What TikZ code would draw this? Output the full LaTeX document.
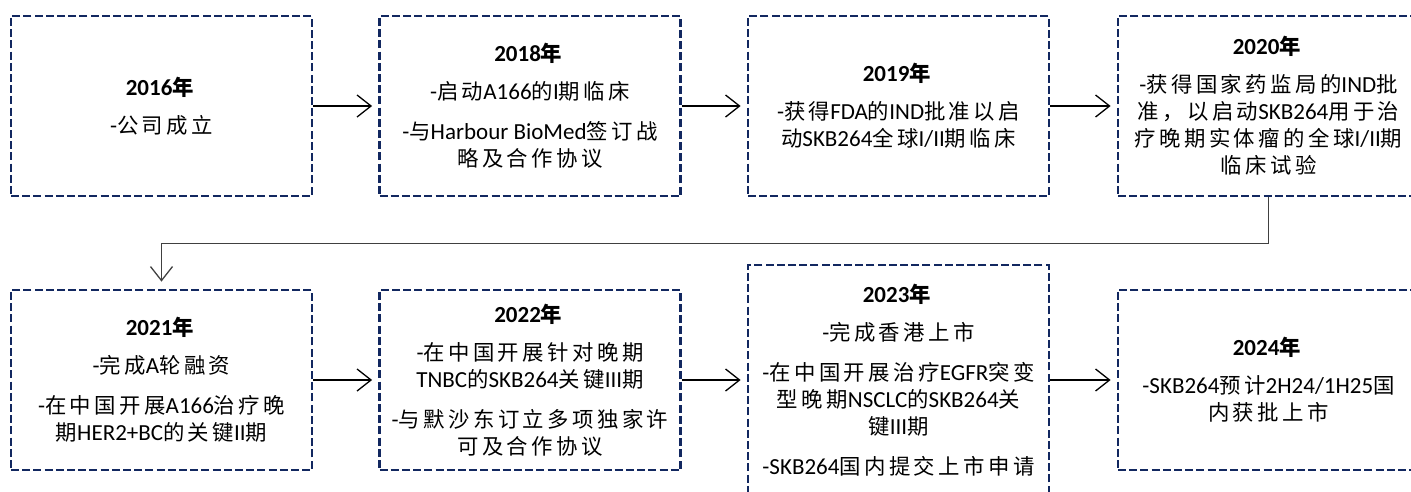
\documentclass[tikz,border=0pt]{standalone}
\usepackage{fontspec}
\setmainfont{Carlito}
\newfontfamily\cjk{Noto Sans CJK SC}[Scale=0.93,LetterSpace=16]
\newcommand\zh[1]{{\cjk #1}}
\usetikzlibrary{arrows.meta}
\definecolor{boxnavy}{RGB}{18,40,96}
\definecolor{elbowgrey}{RGB}{64,64,64}
\tikzset{
  evbox/.style={draw=boxnavy, line width=2.8pt, dash pattern=on 8pt off 3.2pt,
    minimum width=301pt, minimum height=180pt, inner sep=0pt, align=center,
    font=\fontsize{23}{27}\selectfont},
  arr/.style={draw=black, line width=1.3pt, -{Straight Barb[length=14pt,width=22pt,line width=1.3pt]}},
  elbow/.style={draw=elbowgrey, line width=1.6pt, -{Straight Barb[length=14pt,width=22pt,line width=1.3pt]}}
}
\newcommand\yr[1]{\textbf{#1{\cjk\bfseries 年}}}
\begin{document}
\begin{tikzpicture}[x=1pt,y=-1pt]
\useasboundingbox (0,0) rectangle (1411,491);

\node[evbox] (b1) at (161.5,106) {\yr{2016}\\[11pt]-\zh{公司成立}};
\node[evbox] (b2) at (530,106) {\yr{2018}\\[11pt]-\zh{启动}A166\zh{的}I\zh{期临床}\\[13pt]
  -\zh{与}Harbour BioMed\zh{签订战}\\\zh{略及合作协议}};
\node[evbox] (b3) at (898.5,106) {\yr{2019}\\[11pt]-\zh{获得}FDA\zh{的}IND\zh{批准以启}\\
  \zh{动}SKB264\zh{全球}I/II\zh{期临床}};
\node[evbox] (b4) at (1268.5,106) {\yr{2020}\\[11pt]-\zh{获得国家药监局的}IND\zh{批}\\
  \zh{准，以启动}SKB264\zh{用于治}\\\zh{疗晚期实体瘤的全球}I/II\zh{期}\\\zh{临床试验}};

\node[evbox] (b5) at (161.5,380) {\yr{2021}\\[11pt]-\zh{完成}A\zh{轮融资}\\[13pt]
  -\zh{在中国开展}A166\zh{治疗晚}\\\zh{期}HER2+BC\zh{的关键}II\zh{期}};
\node[evbox] (b6) at (530,380) {\yr{2022}\\[11pt]-\zh{在中国开展针对晚期}\\TNBC\zh{的}SKB264\zh{关键}III\zh{期}\\[13pt]
  -\zh{与默沙东订立多项独家许}\\\zh{可及合作协议}};
\node[evbox, minimum height=230pt] (b7) at (898.5,380) {\yr{2023}\\[11pt]-\zh{完成香港上市}\\[13pt]
  -\zh{在中国开展治疗}EGFR\zh{突变}\\\zh{型晚期}NSCLC\zh{的}SKB264\zh{关}\\\zh{键}III\zh{期}\\[13pt]
  -SKB264\zh{国内提交上市申请}};
\node[evbox] (b8) at (1268.5,380) {\yr{2024}\\[11pt]-SKB264\zh{预计}2H24/1H25\zh{国}\\\zh{内获批上市}};

\draw[arr] (b1.east) -- ([xshift=-6pt]b2.west);
\draw[arr] (b2.east) -- ([xshift=-6pt]b3.west);
\draw[arr] (b3.east) -- ([xshift=-6pt]b4.west);
\draw[arr] (b5.east) -- ([xshift=-6pt]b6.west);
\draw[arr] (b6.east) -- ([xshift=-6pt]b7.west);
\draw[arr] (b7.east) -- ([xshift=-6pt]b8.west);

\coordinate (turn) at ([yshift=-46pt]b4.south);
\draw[elbow] (b4.south) -- (turn) -| ([yshift=7pt]b5.north);
\end{tikzpicture}
\end{document}
